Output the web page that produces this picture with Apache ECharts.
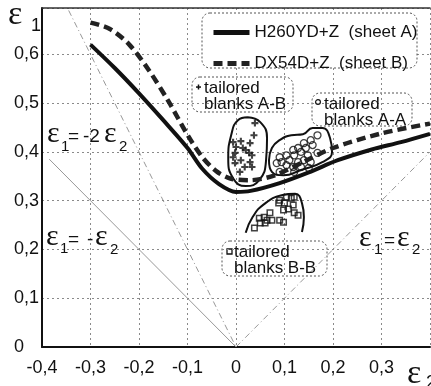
<!DOCTYPE html>
<html><head><meta charset="utf-8">
<script src="https://cdn.jsdelivr.net/npm/echarts@6/dist/echarts.min.js"></script>
<style>html,body{margin:0;padding:0;background:#fff}#c{width:431px;height:386px}</style>
</head><body><div id="c"></div>
<script>
// ---- tick labels ----
const xTickValues = [-0.4, -0.3, -0.2, -0.1, 0, 0.1, 0.2, 0.3];
const xTickLabels = ['-0,4', '-0,3', '-0,2', '-0,1', '0', '0,1', '0,2', '0,3'];
const yTickValues = [0, 0.1, 0.2, 0.3, 0.4, 0.5, 0.6];
const yTickLabels = ['0', '0,1', '0,2', '0,3', '0,4', '0,5', '0,6'];

// ---- series names ----
const nameA = 'H260YD+Z  (sheet A)';
const nameB = 'DX54D+Z  (sheet B)';

// ---- forming limit curves [eps2, eps1] ----
const curveA = [[-0.3,0.62],[-0.25,0.572],[-0.2,0.52],[-0.15,0.465],[-0.1,0.408],[-0.07,0.366],[-0.035,0.334],[0,0.318],[0.03,0.32],[0.09,0.336],[0.15,0.358],[0.21,0.383],[0.28,0.405],[0.34,0.42],[0.4,0.437]];
const curveB = [[-0.3,0.665],[-0.26,0.652],[-0.22,0.62],[-0.18,0.568],[-0.14,0.505],[-0.1,0.435],[-0.07,0.39],[-0.04,0.36],[-0.01,0.345],[0.03,0.342],[0.08,0.352],[0.14,0.38],[0.2,0.408],[0.3,0.438],[0.4,0.458]];

// ---- strain paths ----
const pathNegEps = [[-0.385,0.385],[0,0]];
const pathNeg2Eps = [[-0.345,0.69],[0,0]];
const pathPosEps = [[0,0],[0.4,0.4]];

// ---- measured points ----
const pointsAB = [[0.039,0.459],[0.037,0.434],[-0.006,0.420],[0.010,0.422],[0.029,0.418],[0.000,0.410],[0.014,0.408],[0.020,0.404],[0.027,0.398],[-0.002,0.398],[0.033,0.393],[-0.006,0.389],[0.010,0.383],[0.029,0.379],[-0.002,0.377],[0.018,0.369],[0.033,0.369],[0.008,0.359]];
const pointsAA = [[0.168,0.434],[0.154,0.424],[0.140,0.418],[0.158,0.414],[0.128,0.408],[0.144,0.408],[0.118,0.404],[0.134,0.400],[0.104,0.393],[0.090,0.389],[0.120,0.393],[0.148,0.393],[0.168,0.398],[0.094,0.379],[0.110,0.383],[0.128,0.379],[0.140,0.383],[0.154,0.379],[0.084,0.377],[0.104,0.373],[0.118,0.369],[0.134,0.369],[0.150,0.367],[0.090,0.359],[0.120,0.359]];
const pointsBB = [[0.104,0.307],[0.114,0.305],[0.120,0.307],[0.090,0.301],[0.088,0.295],[0.100,0.295],[0.118,0.291],[0.108,0.283],[0.098,0.281],[0.120,0.275],[0.128,0.270],[0.070,0.275],[0.058,0.266],[0.048,0.264],[0.064,0.260],[0.074,0.260],[0.090,0.260],[0.098,0.256],[0.050,0.254],[0.060,0.254],[0.038,0.244]];

// ---- hand-drawn group outlines ----
const outlineAB = [[0.024,0.471],[0.05,0.461],[0.064,0.428],[0.062,0.383],[0.048,0.342],[0.02,0.330],[-0.006,0.346],[-0.016,0.387],[-0.01,0.434],[0.004,0.465],[0.024,0.471]];
const outlineAA = [[0.068,0.383],[0.074,0.408],[0.09,0.424],[0.114,0.434],[0.138,0.436],[0.158,0.449],[0.178,0.449],[0.194,0.428],[0.198,0.400],[0.178,0.379],[0.134,0.363],[0.098,0.352],[0.074,0.359],[0.068,0.383]];
const outlineBB = [[0.02,0.234],[0.034,0.266],[0.058,0.293],[0.094,0.311],[0.122,0.314],[0.136,0.295],[0.14,0.266],[0.136,0.236]];

// ---- annotation texts ----
const noteAB = ['tailored', 'blanks A-B'];
const noteAA = ['tailored', 'blanks A-A'];
const noteBB = ['tailored', 'blanks B-B'];

const SANS = 'Liberation Sans, Arial, sans-serif';
const SERIF = 'Liberation Serif, Times New Roman, serif';
const INK = '#111';
const PLUS = 'path://M3.5,0H6.5V3.5H10V6.5H6.5V10H3.5V6.5H0V3.5H3.5Z';

function lookup(vals, labels, v) {
  const i = vals.findIndex(t => Math.abs(t - v) < 1e-6);
  return i >= 0 ? labels[i] : '';
}

function txt(x, y, text, size, font, align) {
  return { type: 'text', x: x, y: y, z: 20, silent: true,
    style: { text: text, fontSize: size, fontFamily: font, fill: INK, align: align || 'left', verticalAlign: 'middle' } };
}

function note(x, y, w, h, lines, markers) {
  const kids = [
    { type: 'rect', shape: { x: 0, y: 0, width: w, height: h, r: 8 },
      style: { fill: '#fff', stroke: '#555', lineWidth: 1, lineDash: [2, 2] } },
    txt(12, 11, lines[0], 17, SANS),
    txt(12, 27, lines[1], 17, SANS)
  ];
  return { type: 'group', x: x, y: y, z: 5, children: kids.concat(markers) };
}

const chart = echarts.init(document.getElementById('c'), null, { renderer: 'canvas' });

const option = {
  backgroundColor: '#fff',
  animation: false,
  grid: { left: 42, right: 1, top: 8, bottom: 39, containLabel: false, outerBoundsMode: 'none' },
  xAxis: [{
    type: 'value', min: -0.4, max: 0.4, interval: 0.1,
    axisLine: { show: true, onZero: false, lineStyle: { color: INK, width: 2 } },
    axisTick: { show: false },
    axisLabel: { margin: 12, fontSize: 18, fontFamily: SANS, color: INK,
      formatter: v => lookup(xTickValues, xTickLabels, v) },
    splitLine: { show: true, lineStyle: { color: '#8a8a8a', width: 1, type: [2, 3] } }
  }, {
    type: 'value', min: -0.4, max: 0.4, position: 'top',
    axisLine: { show: true, onZero: false, lineStyle: { color: '#333', width: 1.5 } },
    axisTick: { show: false }, axisLabel: { show: false }, splitLine: { show: false }
  }],
  yAxis: {
    type: 'value', min: 0, max: 0.695, interval: 0.1,
    axisLine: { show: true, onZero: false, lineStyle: { color: INK, width: 2 } },
    axisTick: { show: false },
    axisLabel: { margin: 28, align: 'left', fontSize: 18, fontFamily: SANS, color: INK,
      formatter: v => lookup(yTickValues, yTickLabels, v) },
    splitLine: { show: true, lineStyle: { color: '#8a8a8a', width: 1, type: [2, 3] } }
  },
  legend: {
    data: [nameA, nameB], orient: 'vertical', left: 211, top: 24, itemGap: 14,
    itemWidth: 36, itemHeight: 14, padding: 0, z: 10,
    itemStyle: { opacity: 0 },
    lineStyle: { width: 5 },
    textStyle: { fontSize: 17, fontFamily: SANS, color: INK }
  },
  series: [
    { type: 'line', data: pathNegEps, symbol: 'none', silent: true, z: 1,
      lineStyle: { color: '#8c8c8c', width: 0.9 } },
    { type: 'line', data: pathNeg2Eps, symbol: 'none', silent: true, z: 1,
      lineStyle: { color: '#8c8c8c', width: 0.9, type: [6, 3, 1, 3] } },
    { type: 'line', data: pathPosEps, symbol: 'none', silent: true, z: 1,
      lineStyle: { color: '#8c8c8c', width: 0.9, type: [6, 3, 1, 3] } },
    { type: 'line', data: outlineAB, symbol: 'none', smooth: 0.5, silent: true, z: 3,
      lineStyle: { color: INK, width: 2 } },
    { type: 'line', data: outlineAA, symbol: 'none', smooth: 0.5, silent: true, z: 3,
      lineStyle: { color: INK, width: 2 } },
    { type: 'line', data: outlineBB, symbol: 'none', smooth: 0.5, silent: true, z: 3,
      lineStyle: { color: INK, width: 2 } },
    { type: 'scatter', data: pointsAB, symbol: PLUS, symbolSize: 7, z: 4,
      itemStyle: { color: INK } },
    { type: 'scatter', data: pointsAA, symbol: 'circle', symbolSize: 7, z: 4,
      itemStyle: { color: 'rgba(0,0,0,0)', borderColor: INK, borderWidth: 1.3 } },
    { type: 'scatter', data: pointsBB, symbol: 'rect', symbolSize: 5.5, z: 4,
      itemStyle: { color: 'rgba(0,0,0,0)', borderColor: INK, borderWidth: 1.5 } },
    { name: nameA, type: 'line', data: curveA, symbol: 'none', smooth: 0.3, z: 6,
      itemStyle: { color: INK }, lineStyle: { color: INK, width: 4 } },
    { name: nameB, type: 'line', data: curveB, symbol: 'none', smooth: 0.3, z: 6,
      itemStyle: { color: '#222' }, lineStyle: { color: '#222', width: 4.5, type: [9, 5] } }
  ],
  graphic: [
    // legend frame
    { type: 'rect', z: 2, shape: { x: 202, y: 13, width: 215, height: 55, r: 8 },
      style: { fill: '#fff', stroke: '#555', lineWidth: 1, lineDash: [2, 2] } },
    // annotation boxes
    note(192, 77, 101, 35, noteAB, [
      { type: 'rect', shape: { x: 4, y: 9.3, width: 5, height: 1.5 }, style: { fill: INK } },
      { type: 'rect', shape: { x: 5.75, y: 7.5, width: 1.5, height: 5 }, style: { fill: INK } }
    ]),
    note(312, 93, 100, 33, noteAA, [
      { type: 'circle', shape: { cx: 6, cy: 9, r: 2.4 }, style: { fill: 'none', stroke: INK, lineWidth: 1.2 } }
    ]),
    note(222, 241, 105, 35, noteBB, [
      { type: 'rect', shape: { x: 5, y: 8, width: 5, height: 5 }, style: { fill: 'none', stroke: INK, lineWidth: 1.3 } }
    ]),
    // axis titles
    txt(8, 15, 'ε', 34, SERIF), txt(31, 26, '1', 18, SANS),
    txt(407, 374, 'ε', 34, SERIF), txt(426, 383, '2', 18, SANS),
    // strain path labels
    txt(47, 134, 'ε', 30, SERIF), txt(61, 147, '1', 15, SANS), txt(68, 137, '=', 19, SANS), txt(83, 137, '-2', 19, SANS),
    txt(104, 134, 'ε', 30, SERIF), txt(119, 147, '2', 15, SANS),
    txt(46, 237, 'ε', 30, SERIF), txt(60, 249, '1', 15, SANS), txt(68, 240, '=', 19, SANS), txt(87, 240, '-', 19, SANS),
    txt(95, 237, 'ε', 30, SERIF), txt(110, 250, '2', 15, SANS),
    txt(359, 238, 'ε', 30, SERIF), txt(374, 250, '1', 15, SANS), txt(384, 241, '=', 19, SANS),
    txt(397, 238, 'ε', 30, SERIF), txt(412, 250, '2', 15, SANS)
  ]
};
chart.setOption(option);
</script></body></html>
